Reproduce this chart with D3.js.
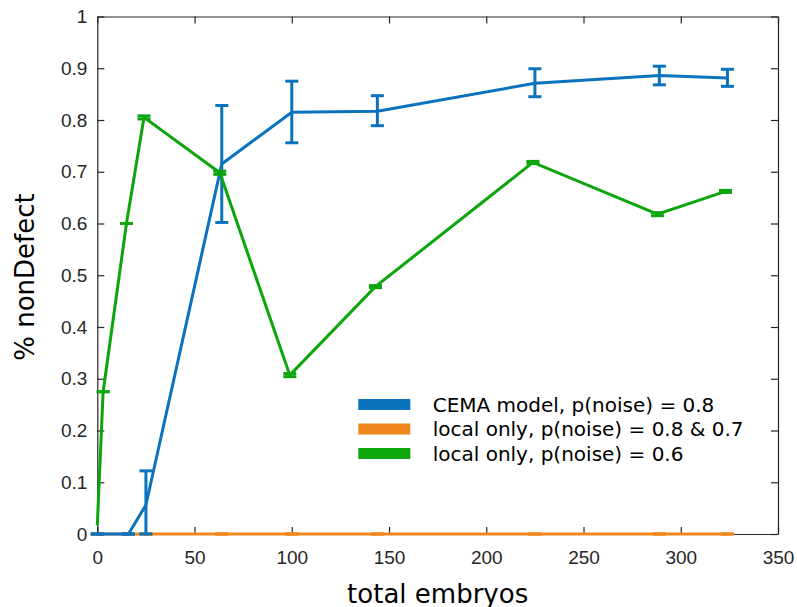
<!DOCTYPE html>
<html>
<head>
<meta charset="utf-8">
<script src="https://cdn.jsdelivr.net/npm/d3@7"></script>
<style>
  body { margin: 0; background: #fff; }
  .tick text { font-family: 'Liberation Sans', Arial, sans-serif; font-size: 19px; fill: #262626; }
  .tick line, .domain { stroke: #262626; }
</style>
</head>
<body>
<script>
// data
var xTicks = [0, 50, 100, 150, 200, 250, 300, 350];
var yTicks = [0, 0.1, 0.2, 0.3, 0.4, 0.5, 0.6, 0.7, 0.8, 0.9, 1];

var cemaX = [0, 16, 25, 64, 100, 144, 225, 289, 324];
var cemaY = [0, 0, 0.056, 0.715, 0.815, 0.817, 0.871, 0.886, 0.881];
var cemaLo = [0, 0, 0, 0.602, 0.756, 0.789, 0.845, 0.868, 0.865];
var cemaHi = [0, 0, 0.122, 0.828, 0.875, 0.847, 0.899, 0.904, 0.898];

var local87X = [0, 16, 25, 64, 100, 144, 225, 289, 324];
var local87Y = [0, 0, 0, 0, 0, 0, 0, 0, 0];

var local6X = [0, 3, 15, 24, 63, 99, 143, 224, 288, 323];
var local6Y = [0.017, 0.275, 0.6, 0.805, 0.698, 0.307, 0.478, 0.718, 0.618, 0.662];
var local6Err = [null, 0, 0, 0.003, 0.003, 0.003, 0.002, 0.002, 0.003, 0.002];

var legendLabels = ['CEMA model, p(noise) = 0.8', 'local only, p(noise) = 0.8 & 0.7', 'local only, p(noise) = 0.6'];

var colorBlue = '#0b72bd',
	colorOrange = '#f0871e',
	colorGreen = '#0ca60c';

var width = 797, height = 607;
var plot = {left: 97.3, right: 778, top: 16.5, bottom: 534};

var svg = d3.select('body').append('svg')
	.attr('width', width)
	.attr('height', height);

var x = d3.scaleLinear().domain([0, 350]).range([plot.left, plot.right]);
var y = d3.scaleLinear().domain([0, 1]).range([plot.bottom, plot.top]);

// axes box with inward ticks on all sides
svg.append('g')
	.attr('transform', 'translate(0,' + plot.bottom + ')')
	.call(d3.axisBottom(x).tickValues(xTicks).tickSize(-7).tickSizeOuter(0).tickPadding(17)
		.tickFormat(d3.format('d')));

svg.append('g')
	.attr('transform', 'translate(0,' + plot.top + ')')
	.call(d3.axisTop(x).tickValues(xTicks).tickSize(-7).tickSizeOuter(0).tickFormat(''));

svg.append('g')
	.attr('transform', 'translate(' + plot.left + ',0)')
	.call(d3.axisLeft(y).tickValues(yTicks).tickSize(-7).tickSizeOuter(0).tickPadding(10)
		.tickFormat(function(d) { return d3.format('~g')(d); }));

svg.append('g')
	.attr('transform', 'translate(' + plot.right + ',0)')
	.call(d3.axisRight(y).tickValues(yTicks).tickSize(-7).tickSizeOuter(0).tickFormat(''));

svg.selectAll('.domain').attr('stroke-width', 1.2);
svg.selectAll('.tick line').attr('stroke-width', 1.2);

// draw one series with error bars
function drawSeries(xs, ys, lo, hi, color) {
	var pts = xs.map(function(d, i) { return [d, ys[i]]; });
	var line = d3.line()
		.x(function(d) { return x(d[0]); })
		.y(function(d) { return y(d[1]); });

	var g = svg.append('g');
	g.append('path')
		.attr('d', line(pts))
		.attr('fill', 'none')
		.attr('stroke', color)
		.attr('stroke-width', 3);

	xs.forEach(function(d, i) {
		if (lo[i] === null) return;
		var cx = x(d);
		g.append('line')
			.attr('x1', cx).attr('x2', cx)
			.attr('y1', y(lo[i])).attr('y2', y(hi[i]))
			.attr('stroke', color).attr('stroke-width', 3);
		[lo[i], hi[i]].forEach(function(v) {
			g.append('line')
				.attr('x1', cx - 6.5).attr('x2', cx + 6.5)
				.attr('y1', y(v)).attr('y2', y(v))
				.attr('stroke', color).attr('stroke-width', 3);
		});
	});
}

drawSeries(local87X, local87Y, local87Y, local87Y, colorOrange);
drawSeries(cemaX, cemaY, cemaLo, cemaHi, colorBlue);
drawSeries(local6X, local6Y,
	local6Y.map(function(v, i) { return local6Err[i] === null ? null : v - local6Err[i]; }),
	local6Y.map(function(v, i) { return local6Err[i] === null ? null : v + local6Err[i]; }),
	colorGreen);

// axis titles
svg.append('text')
	.attr('x', (plot.left + plot.right) / 2)
	.attr('y', 603)
	.attr('text-anchor', 'middle')
	.style('font-family', 'DejaVu Sans, sans-serif')
	.style('font-size', '26px')
	.attr('fill', '#000')
	.text('total embryos');

svg.append('text')
	.attr('transform', 'translate(34,277) rotate(-90)')
	.attr('text-anchor', 'middle')
	.style('font-family', 'DejaVu Sans, sans-serif')
	.style('font-size', '26px')
	.attr('fill', '#000')
	.text('% nonDefect');

// legend
var legendColors = [colorBlue, colorOrange, colorGreen];
var legend = svg.append('g');
legendLabels.forEach(function(lab, i) {
	var ly = 404.5 + i * 24.5;
	legend.append('rect')
		.attr('x', 358.3)
		.attr('y', ly - 5.5)
		.attr('width', 52)
		.attr('height', 11)
		.attr('fill', legendColors[i]);
	legend.append('text')
		.attr('x', 432.7)
		.attr('y', ly + 7)
		.style('font-family', 'DejaVu Sans, sans-serif')
		.style('font-size', '20px')
		.attr('fill', '#000')
		.text(lab);
});
</script>
</body>
</html>
